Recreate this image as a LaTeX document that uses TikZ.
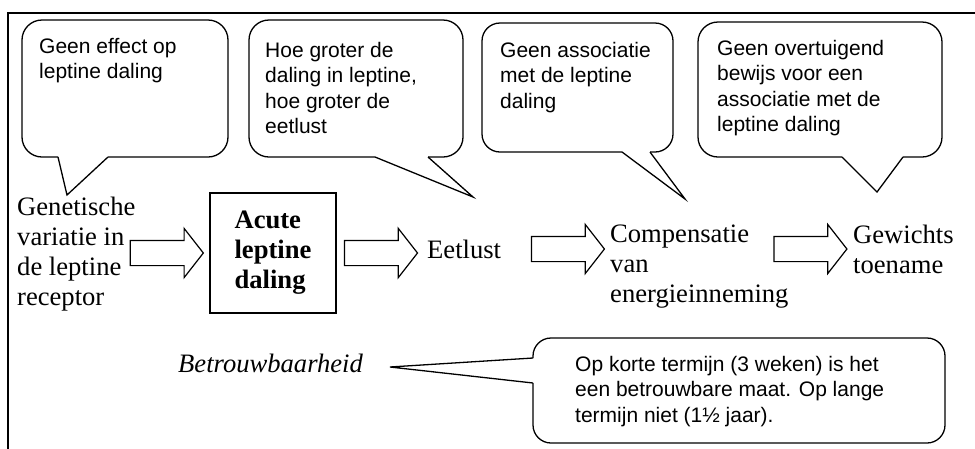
\documentclass[tikz,border=0pt]{standalone}
\usepackage{fontspec}
\setmainfont{Liberation Serif}
\newfontfamily\bubblefont{Liberation Sans}
\usetikzlibrary{shapes.arrows, positioning}

\begin{document}
\begin{tikzpicture}[
    x=1pt, y=-1pt,
    chain/.style={font=\fontsize{26.6}{30}\selectfont, align=left, inner sep=0pt, anchor=base west},
    keybox/.style={rectangle, draw, line width=1.8pt, minimum width=126pt, minimum height=120pt, font=\fontsize{26.6}{30}\selectfont\bfseries, align=left},
    bigarrow/.style={single arrow, draw, line width=1.2pt, minimum height=73pt, inner xsep=0pt, inner ysep=12pt, single arrow head extend=12pt, single arrow tip angle=104},
    bubtext/.style={font=\bubblefont\fontsize{21}{25.5}\selectfont, align=left, inner sep=0pt, anchor=base west},
    bubble/.style={line width=1.3pt, rounded corners=20pt},
    wedge/.style={line width=1.3pt, line join=miter}
]
    \useasboundingbox (0,0) rectangle (975,448);

    % Frame
    \draw[line width=2.2pt] (8,13) rectangle (990,470);

    % Chain (anchored at the baseline of the last line)
    \node[chain] (gen) at (17,305) {Genetische\\variatie in\\de leptine\\receptor};
    \node[keybox] (acute) at (273,253) {Acute\\leptine\\daling};
    \node[chain] (eet) at (427,258) {Eetlust};
    \node[chain] (comp) at (610,302) {Compensatie\\van\\energieinneming};
    \node[chain] (gew) at (853,273) {Gewichts\\toename};
    \node[chain, font=\fontsize{26.6}{30}\selectfont\itshape] (betr) at (178,372) {Betrouwbaarheid};

    % Arrows
    \node[bigarrow, left=5pt of acute] (a1) {};
    \node[bigarrow, right=7pt of acute] (a2) {};
    \node[bigarrow] (a3) at (563,249) {};
    \node[bigarrow] (a4) at (805.5,249) {};

    % Callouts
    \node[bubtext] (t1) at (39,78.5) {Geen effect op\\leptine daling};
    \node[bubtext] (t2) at (265,133.5) {Hoe groter de\\daling in leptine,\\hoe groter de\\eetlust};
    \node[bubtext] (t3) at (500,108) {Geen associatie\\met de leptine\\daling};
    \node[bubtext] (t4) at (717,131.5) {Geen overtuigend\\bewijs voor een\\associatie met de\\leptine daling};
    \node[bubtext] (t5) at (575,422) {Op korte termijn (3 weken) is het\\een betrouwbare maat. Op lange\\termijn niet (1½ jaar).};

    \coordinate (p1) at (67,195);
    \coordinate (p2) at (473,197);
    \coordinate (p3) at (685,199);
    \coordinate (p4) at (877,192);
    \coordinate (p5) at (390,367);

    \draw[bubble] (58,157) -- (22,157) -- (22,20) -- (228,20) -- (228,157) -- (108,157);
    \draw[wedge] (108,157) -- (p1) -- (58,157);
    \draw[bubble] (375,157) -- (249,157) -- (249,20) -- (463,20) -- (463,157) -- (428,157);
    \draw[wedge] (428,157) -- (p2) -- (375,157);
    \draw[bubble, rounded corners=18pt] (622,152) -- (482,152) -- (482,23) -- (673,23) -- (673,152) -- (650,152);
    \draw[wedge] (650,152) -- (p3) -- (622,152);
    \draw[bubble] (842,157) -- (698,157) -- (698,22) -- (942,22) -- (942,157) -- (903,157);
    \draw[wedge] (903,157) -- (p4) -- (842,157);
    \draw[bubble, rounded corners=18pt] (533,383) -- (533,443) -- (945,443) -- (945,338) -- (533,338) -- (533,358);
    \draw[wedge] (533,358) -- (p5) -- (533,383);
\end{tikzpicture}
\end{document}
